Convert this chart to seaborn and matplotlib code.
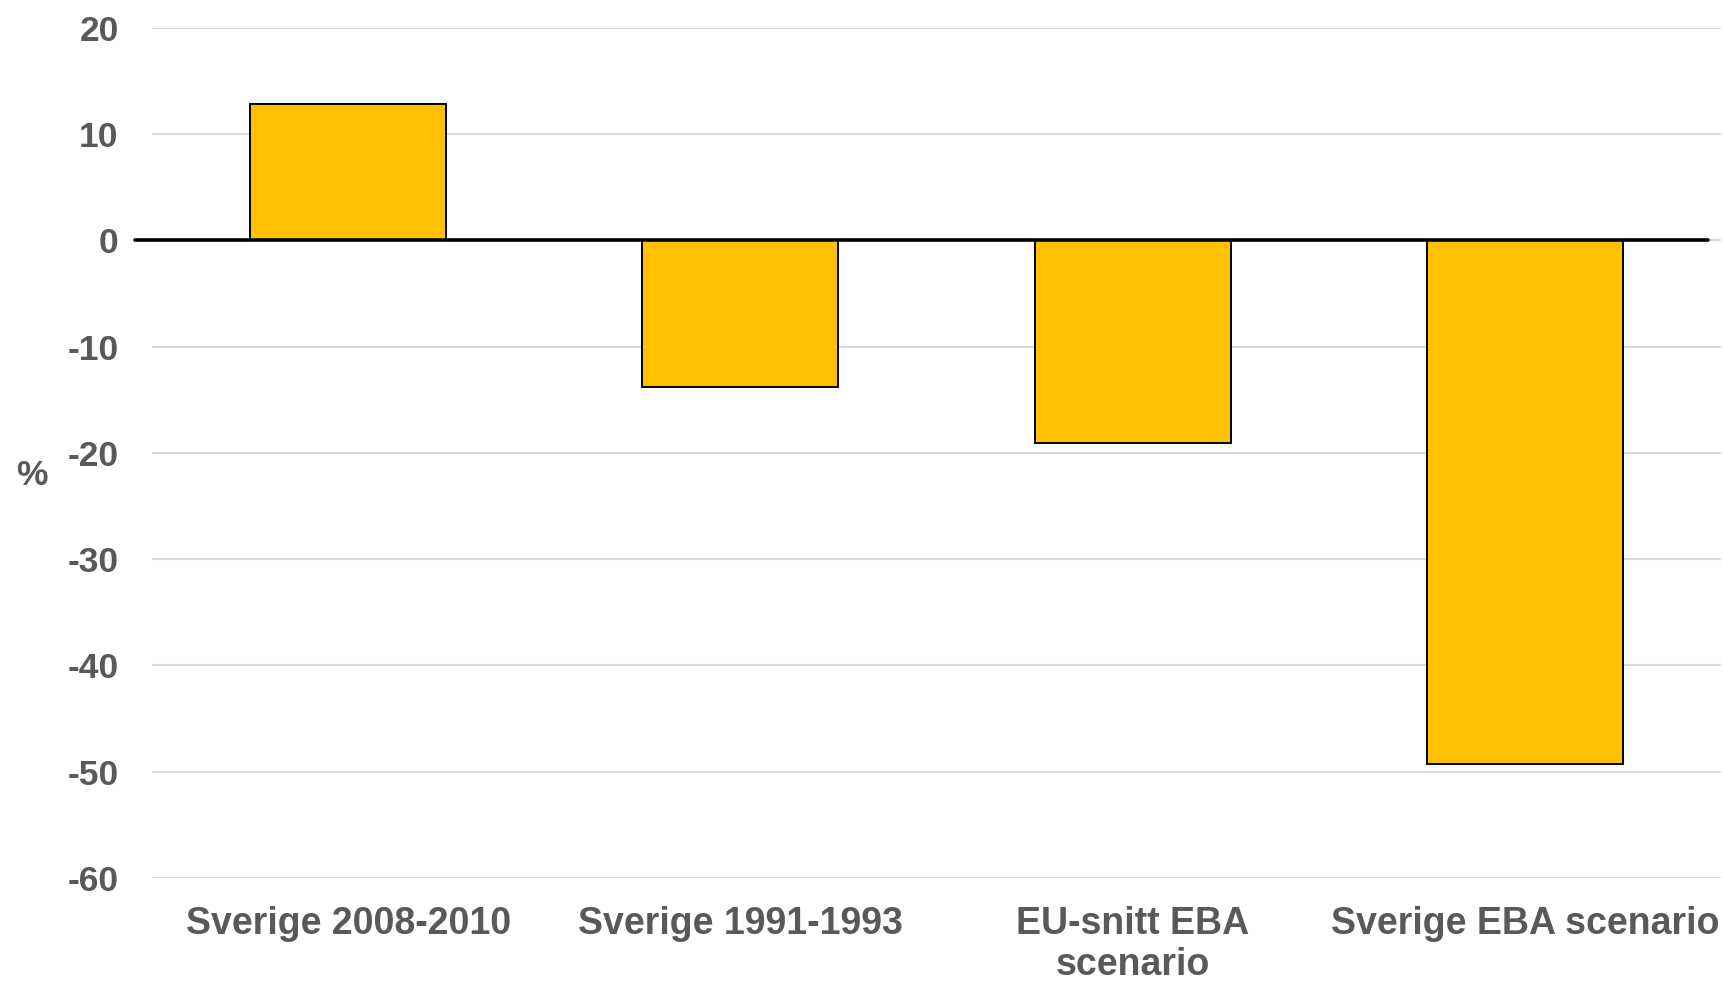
import matplotlib
matplotlib.use("Agg")
import matplotlib.pyplot as plt
import seaborn as sns
import pandas as pd

categories = ["Sverige 2008-2010", "Sverige 1991-1993", "EU-snitt EBA\nscenario", "Sverige EBA scenario"]
values = [12.8, -13.8, -19.1, -49.3]
yticks = [20, 10, 0, -10, -20, -30, -40, -50, -60]

sns.set_theme(style="white")
plt.rcParams['font.family'] = ['Liberation Sans', 'DejaVu Sans']

df = pd.DataFrame({"cat": categories, "val": values})

fig = plt.figure(figsize=(17.23, 9.81), dpi=100)
ax = fig.add_axes([152/1723, 1-878/981, 1569/1723, (878-27.7)/981])

sns.barplot(data=df, x="cat", y="val", color="#FFC000", saturation=1,
            width=0.5, edgecolor="black", linewidth=1.4, ax=ax, zorder=3)

ax.set_ylim(-60, 20)
ax.set_xlim(-0.5, 3.5)
ax.set_yticks(yticks)
ax.set_yticklabels([str(t) for t in yticks])
ax.grid(axis="y", color="#d9d9d9", linewidth=1.5, zorder=0)
ax.set_axisbelow(True)
ax.axhline(0, xmin=-0.011, xmax=0.9915, color="black", linewidth=2.6, zorder=4, clip_on=False)

for s in ax.spines.values():
    s.set_visible(False)

ax.tick_params(axis="y", length=0, pad=24, labelsize=25.5, labelcolor="#595959")
ax.tick_params(axis="x", length=0, pad=20, labelsize=27, labelcolor="#595959")
for lab in ax.get_yticklabels() + ax.get_xticklabels():
    lab.set_fontweight("bold")
for lab in ax.get_xticklabels():
    lab.set_linespacing(1.18)
ax.set_xlabel("")
ax.set_ylabel("")

fig.text(32/1723, 1-476/981, "%", fontsize=25.5, fontweight="bold", color="#595959",
         ha="center", va="center")

fig.savefig("out.png", dpi=100, facecolor="white")
